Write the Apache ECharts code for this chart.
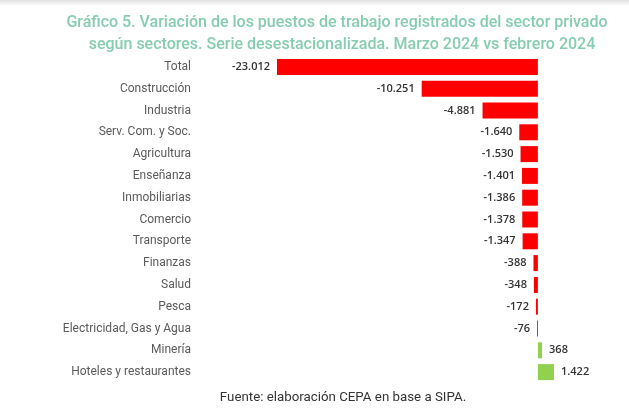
<!DOCTYPE html>
<html>
<head>
<meta charset="utf-8">
<script src="https://cdn.jsdelivr.net/npm/echarts@6/dist/echarts.min.js"></script>
<style>
  html, body { margin: 0; padding: 0; background: #fff; }
  #chart { width: 629px; height: 411px; }
</style>
</head>
<body>
<div id="chart"></div>
<script>
// Variación de puestos de trabajo por sector, marzo 2024 vs febrero 2024
const sectores = ['Total', 'Construcción', 'Industria', 'Serv. Com. y Soc.', 'Agricultura',
    'Enseñanza', 'Inmobiliarias', 'Comercio', 'Transporte', 'Finanzas', 'Salud', 'Pesca',
    'Electricidad, Gas y Agua', 'Minería', 'Hoteles y restaurantes'];
const variacion = [-23012, -10251, -4881, -1640, -1530, -1401, -1386, -1378, -1347,
    -388, -348, -172, -76, 368, 1422];

// formato con punto de miles
function fmt(v) {
    const s = Math.abs(v).toString().replace(/\B(?=(\d{3})+(?!\d))/g, '.');
    return (v < 0 ? '-' : '') + s;
}

const chart = echarts.init(document.getElementById('chart'));

chart.setOption({
    animation: false,
    title: [
        {
            text: 'Gráfico 5. Variación de los puestos de trabajo registrados del sector privado',
            left: 332,
            top: 10,
            textAlign: 'center',
            textStyle: { fontFamily: 'Roboto', fontSize: 16, fontWeight: 500, color: '#86ccb1' }
        },
        {
            text: 'según sectores. Serie desestacionalizada. Marzo 2024 vs febrero 2024',
            left: 337,
            top: 32,
            textAlign: 'center',
            textStyle: { fontFamily: 'Roboto', fontSize: 16, fontWeight: 500, color: '#86ccb1' }
        },
        {
            text: 'Fuente: elaboración CEPA en base a SIPA.',
            left: 338,
            top: 386,
            textAlign: 'center',
            textStyle: { fontFamily: 'Roboto', fontSize: 13.3, fontWeight: 'normal', color: '#333' }
        }
    ],
    graphic: [
        {
            type: 'rect',
            shape: { x: 0, y: 0, width: 629, height: 6 },
            style: {
                fill: new echarts.graphic.LinearGradient(0, 0, 0, 1, [
                    { offset: 0, color: 'rgba(0,0,0,0.12)' },
                    { offset: 1, color: 'rgba(0,0,0,0)' }
                ])
            },
            silent: true
        }
    ],
    grid: { left: 277, right: 75, top: 56, bottom: 28 },
    xAxis: {
        type: 'value',
        min: -23012,
        max: 1422,
        show: false
    },
    yAxis: {
        type: 'category',
        data: sectores,
        inverse: true,
        axisLine: { show: false },
        axisTick: { show: false },
        splitLine: { show: false },
        axisLabel: {
            margin: 86,
            fontFamily: 'Roboto',
            fontSize: 12,
            color: '#5a5a5a'
        }
    },
    series: [
        {
            type: 'bar',
            data: variacion.map(v => ({
                value: v,
                itemStyle: { color: v < 0 ? '#ff0000' : '#92d050' },
                label: { position: v < 0 ? 'left' : 'right' }
            })),
            barWidth: 16,
            label: {
                show: true,
                distance: 7,
                fontFamily: 'Open Sans',
                fontSize: 11,
                fontWeight: 600,
                color: '#333',
                formatter: p => fmt(p.value)
            }
        }
    ]
});
</script>
</body>
</html>
